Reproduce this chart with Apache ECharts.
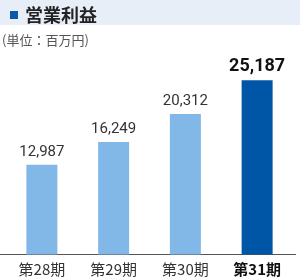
<!DOCTYPE html>
<html><head><meta charset="utf-8">
<script src="https://cdn.jsdelivr.net/npm/echarts@6/dist/echarts.min.js"></script>
<style>html,body{margin:0;padding:0;background:#fff}#c{width:300px;height:280px}</style>
</head><body><div id="c"></div>
<script>
const categories = ['第28期', '第29期', '第30期', '第31期'];
const values = [12987, 16249, 20312, 25187];
const titleText = '営業利益';
const unitText = '(単位：百万円)';

const chart = echarts.init(document.getElementById('c'), null, {renderer: 'canvas'});
const lastIdx = values.length - 1;
const fontCJK = '"Noto Sans CJK JP", "Noto Sans", sans-serif';
const fontNum = 'Roboto, "Noto Sans", sans-serif';

chart.setOption({
  animation: false,
  backgroundColor: '#fff',
  graphic: [
    {type: 'rect', shape: {x: 0, y: 0, width: 300, height: 25}, style: {fill: '#e8eef7'}, silent: true},
    {type: 'rect', shape: {x: 10, y: 11, width: 8, height: 8}, style: {fill: '#0a58a8'}, silent: true},
    {type: 'text', x: 25, y: 15, style: {text: titleText, font: 'bold 18px ' + fontCJK, fill: '#222', textVerticalAlign: 'middle'}},
    {type: 'text', x: 2, y: 40, style: {text: unitText, font: '13px ' + fontCJK, fill: '#555', textVerticalAlign: 'middle'}},
    {type: 'line', shape: {x1: 0, y1: 254.5, x2: 296, y2: 254.5}, style: {stroke: '#555', lineWidth: 1}, silent: true}
  ],
  grid: {left: 6, right: 7, top: 47, bottom: 25.5, containLabel: false},
  xAxis: {
    type: 'category',
    data: categories,
    axisLine: {show: false},
    axisTick: {show: false},
    axisLabel: {
      interval: 0,
      margin: 7,
      fontSize: 15,
      fontFamily: fontCJK,
      color: '#333',
      formatter: (v, i) => i === lastIdx ? '{b|' + v + '}' : v,
      rich: {b: {fontSize: 15, fontWeight: 'bold', color: '#111', fontFamily: fontCJK}}
    }
  },
  yAxis: {type: 'value', min: 0, max: 30000, show: false, splitLine: {show: false}},
  series: [{
    type: 'bar',
    barWidth: 31,
    data: values.map((v, i) => ({
      value: v,
      itemStyle: {color: i === lastIdx ? '#0056a6' : '#82b8e8'},
      label: i === lastIdx ? {fontSize: 18, fontWeight: 'bold', color: '#111'} : {}
    })),
    label: {
      show: true,
      position: 'top',
      distance: 5,
      fontSize: 15,
      fontFamily: fontNum,
      color: '#333',
      formatter: p => p.value.toLocaleString('en-US')
    }
  }]
});
</script></body></html>
